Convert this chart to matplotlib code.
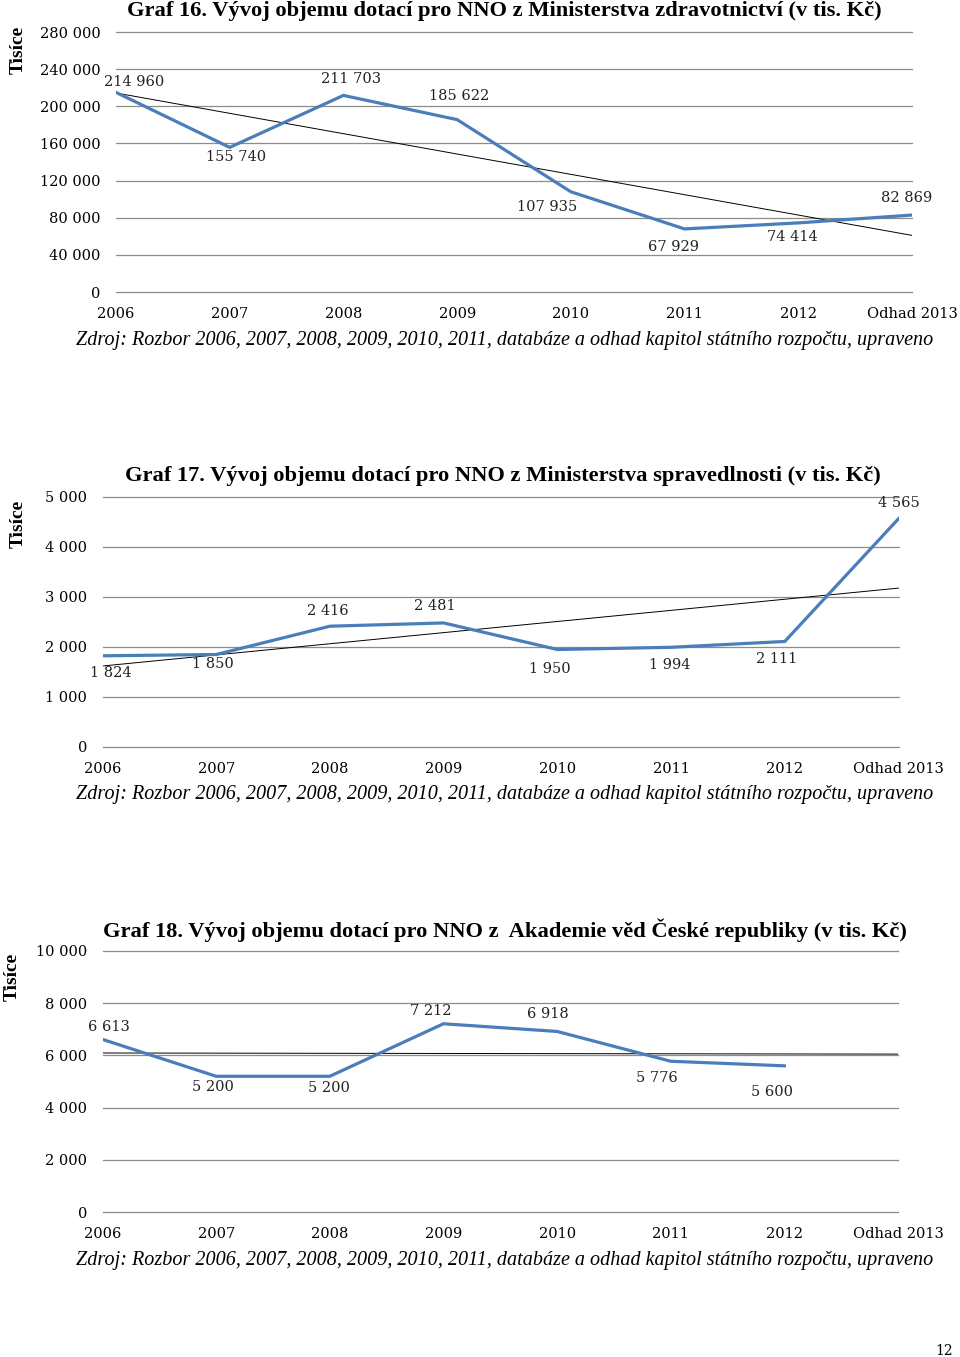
import numpy as np
import matplotlib
matplotlib.use("Agg")
import matplotlib.pyplot as plt

plt.rcParams["font.family"] = ["DejaVu Serif"]

years = ["2006", "2007", "2008", "2009", "2010", "2011", "2012", "Odhad 2013"]

# Graf 16 - Ministerstvo zdravotnictví
mz_values = [214960, 155740, 211703, 185622, 107935, 67929, 74414, 82869]
mz_ticks = [0, 40000, 80000, 120000, 160000, 200000, 240000, 280000]

# Graf 17 - Ministerstvo spravedlnosti
ms_values = [1824, 1850, 2416, 2481, 1950, 1994, 2111, 4565]
ms_ticks = [0, 1000, 2000, 3000, 4000, 5000]

# Graf 18 - Akademie věd ČR (no estimate for 2013)
av_values = [6613, 5200, 5200, 7212, 6918, 5776, 5600]
av_ticks = [0, 2000, 4000, 6000, 8000, 10000]

titles = [
    "Graf 16. Vývoj objemu dotací pro NNO z Ministerstva zdravotnictví (v tis. Kč)",
    "Graf 17. Vývoj objemu dotací pro NNO z Ministerstva spravedlnosti (v tis. Kč)",
    "Graf 18. Vývoj objemu dotací pro NNO z  Akademie věd České republiky (v tis. Kč)",
]
source = ("Zdroj: Rozbor 2006, 2007, 2008, 2009, 2010, 2011, databáze a odhad "
          "kapitol státního rozpočtu, upraveno")

# label offsets in pixels (dx, dy screen-down)
mz_off = [(18, -10), (6, 10), (8, -16), (2, -24), (-24, 15), (-11, 18), (-6, 14), (-5, -17)]
ms_off = [(8, 17), (-3, 10), (-2, -15), (-9, -17), (-8, 20), (-1, 18), (-8, 18), (0, -16)]
av_off = [(6, -12), (-3, 11), (-1, 12), (-13, -13), (-9, -17), (-14, 17), (-12, 26)]

W, H = 960, 1357
fig = plt.figure(figsize=(W / 100, H / 100), dpi=100)

BLUE = "#4A7EBB"
GRID = "#8C8C8C"


def fmt(v):
    return f"{v:,}".replace(",", " ")


def draw(left, right, top, bottom, values, ticks, offsets, title, title_x, title_y,
         ylab_x, ylab_y, src_y):
    ax = fig.add_axes([left / W, 1 - bottom / H, (right - left) / W, (bottom - top) / H])
    x = np.arange(len(values))
    ax.set_xlim(0, 7)
    ax.set_ylim(0, ticks[-1])
    for t in ticks:
        ax.axhline(t, color=GRID, lw=0.9, zorder=1, clip_on=False)
    # linear trend line (Excel style), extended over the whole category axis
    k, q = np.polyfit(x, values, 1)
    xt = np.array([0, 7])
    ax.plot(xt, k * xt + q, color="black", lw=0.7, zorder=2)
    ax.plot(x, values, color=BLUE, lw=2.3, zorder=3, solid_joinstyle="miter")
    for xi, v, (dx, dy) in zip(x, values, offsets):
        ax.annotate(fmt(v), (xi, v), xytext=(dx, -dy), textcoords="offset pixels",
                    ha="center", va="center", fontsize=10.5, color="#222222")
    ax.set_xticks(range(8))
    ax.set_xticklabels(years, fontsize=10.5)
    ax.set_yticks(ticks)
    ax.set_yticklabels([fmt(t) for t in ticks], fontsize=10.5)
    ax.tick_params(length=0, pad=11)
    for s in ax.spines.values():
        s.set_visible(False)
    fig.text(title_x / W, 1 - title_y / H, title, ha="left", va="center",
             fontsize=16.2, fontweight="bold", family="Liberation Serif")
    fig.text(ylab_x / W, 1 - ylab_y / H, "Tisíce", rotation=90, ha="center",
             va="center", fontsize=14, fontweight="bold", family="Liberation Serif")
    fig.text(505 / W, 1 - src_y / H, source, ha="center", va="center",
             fontsize=14.5, style="italic", family="Liberation Serif")
    return ax


draw(116, 912, 32, 292, mz_values, mz_ticks, mz_off, titles[0], 127, 11, 18, 50, 341)
draw(102.5, 898.5, 497, 747, ms_values, ms_ticks, ms_off, titles[1], 125, 476, 18, 524, 795)
draw(102.5, 898, 951, 1212, av_values, av_ticks, av_off, titles[2], 103, 930, 12, 977, 1260)

fig.text(944 / W, 1 - 1351 / H, "12", ha="center", va="center", fontsize=10)

fig.savefig("out.png", dpi=100)
